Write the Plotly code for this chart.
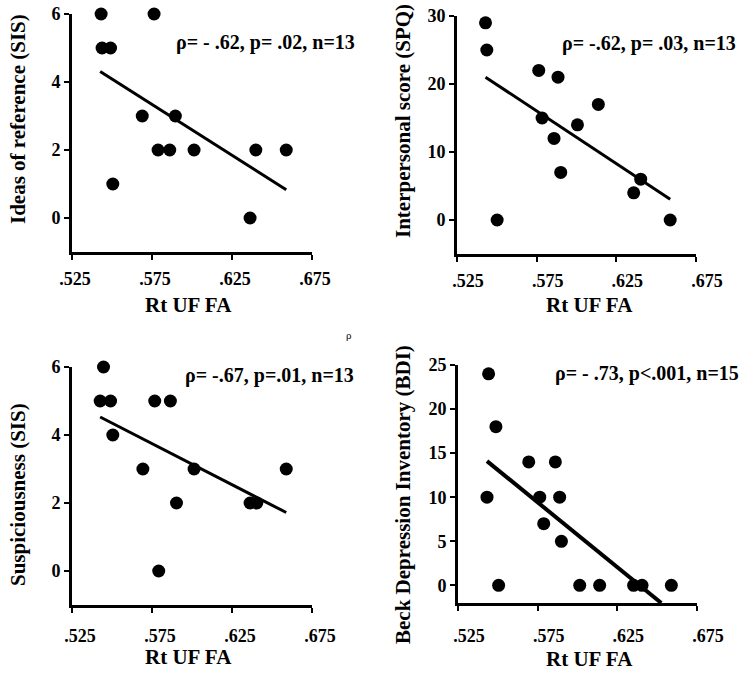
import plotly.graph_objects as go

W, H = 751, 677

# ---------------- data ----------------
x_ticks = [0.525, 0.575, 0.625, 0.675]
x_tick_labels = [".525", ".575", ".625", ".675"]

# Panel 1: Ideas of reference (SIS)
p1_x = [0.5432, 0.5763, 0.5438, 0.5491, 0.5505, 0.5689, 0.5788, 0.5861, 0.5896, 0.6013, 0.6363, 0.6399, 0.6589]
p1_y = [6, 6, 5, 5, 1, 3, 2, 2, 3, 2, 0, 2, 2]
p1_fit_x = [0.5426, 0.6589]
p1_fit_y = [4.31, 0.83]
p1_yticks = [0, 2, 4, 6]

# Panel 2: Interpersonal score (SPQ)
p2_x = [0.5429, 0.5437, 0.5502, 0.5763, 0.5784, 0.5884, 0.5859, 0.5901, 0.6006, 0.6137, 0.6359, 0.6403, 0.6588]
p2_y = [29, 25, 0, 22, 15, 21, 12, 7, 14, 17, 4, 6, 0]
p2_fit_x = [0.5429, 0.6588]
p2_fit_y = [21.0, 3.05]
p2_yticks = [0, 10, 20, 30]

# Panel 3: Suspiciousness (SIS)
p3_x = [0.5447, 0.5426, 0.5491, 0.5505, 0.5693, 0.5767, 0.5865, 0.5792, 0.5903, 0.6013, 0.6363, 0.6405, 0.6589]
p3_y = [6, 5, 5, 4, 3, 5, 5, 0, 2, 3, 2, 2, 3]
p3_fit_x = [0.5426, 0.6589]
p3_fit_y = [4.53, 1.72]
p3_yticks = [0, 2, 4, 6]

# Panel 4: Beck Depression Inventory (BDI)
p4_x = [0.5442, 0.5432, 0.5488, 0.5505, 0.5694, 0.5763, 0.5788, 0.5861, 0.5888, 0.5899, 0.6014, 0.6139, 0.6352, 0.6405, 0.6589]
p4_y = [24, 10, 18, 0, 14, 10, 7, 14, 10, 5, 0, 0, 0, 0, 0]
p4_fit_x = [0.5432, 0.6526]
p4_fit_y = [14.1, -2.0]
p4_yticks = [0, 5, 10, 15, 20, 25]

y_titles = ["Ideas of reference (SIS)", "Interpersonal score (SPQ)",
            "Suspiciousness (SIS)", "Beck Depression Inventory (BDI)"]
x_title = "Rt UF FA"
stats = ["ρ= - .62, p= .02, n=13", "ρ= -.62, p= .03, n=13",
         "ρ= -.67, p=.01, n=13", "ρ= - .73, p<.001, n=15"]

# ---------------- layout helpers ----------------
FONT = "Liberation Serif, Times New Roman, serif"

def px_x(px):
    return px / W

def px_y(py):
    return 1 - py / H

# plot-area boxes in pixels: (left, right, top, bottom)
boxes = [(72, 312, 14, 252), (457, 696, 16, 254), (72, 312, 367, 605), (458, 697, 365, 603)]
yranges = [[-1, 6], [-5, 30], [-1, 6], [-2, 25]]
panels = [(p1_x, p1_y, p1_fit_x, p1_fit_y, p1_yticks),
          (p2_x, p2_y, p2_fit_x, p2_fit_y, p2_yticks),
          (p3_x, p3_y, p3_fit_x, p3_fit_y, p3_yticks),
          (p4_x, p4_y, p4_fit_x, p4_fit_y, p4_yticks)]
line_widths = [3, 3, 3, 4]
xlabel_standoff = [3, 3, 7, 9]
xlabel_shift = [3, 11, 8, 11]
ylabel_suffix = ["\u00a0\u00a0", "", "\u00a0\u00a0", ""]

fig = go.Figure()
layout = dict(width=W, height=H, margin=dict(l=0, r=0, t=0, b=0, pad=0, autoexpand=False),
              paper_bgcolor="white", plot_bgcolor="white", showlegend=False,
              font=dict(family=FONT, color="black"))

for i, (px_, py_, fx, fy, yt) in enumerate(panels):
    n = "" if i == 0 else str(i + 1)
    xa, ya = "x" + n, "y" + n
    fig.add_trace(go.Scatter(x=fx, y=fy, mode="lines", xaxis=xa, yaxis=ya,
                             line=dict(color="black", width=line_widths[i]), cliponaxis=False))
    fig.add_trace(go.Scatter(x=px_, y=py_, mode="markers", xaxis=xa, yaxis=ya,
                             marker=dict(color="black", size=13), cliponaxis=False))
    l, r, t, b = boxes[i]
    layout["xaxis" + n] = dict(domain=[px_x(l), px_x(r)], anchor=ya, range=[0.525, 0.675],
                               tickvals=x_ticks, ticktext=x_tick_labels, automargin=False,
                               showline=True, linecolor="black", linewidth=3,
                               ticks="outside", ticklen=5, tickwidth=2, tickcolor="black",
                               showgrid=False, zeroline=False,
                               ticklabelshift=xlabel_shift[i],
                               ticklabelstandoff=xlabel_standoff[i],
                               tickfont=dict(family=FONT, size=18, weight="bold", color="black"))
    layout["yaxis" + n] = dict(domain=[px_y(b), px_y(t)], anchor=xa, range=yranges[i],
                               tickvals=yt, showline=True, linecolor="black", linewidth=3,
                               automargin=False, ticksuffix=ylabel_suffix[i],
                               ticks="outside", ticklen=5, tickwidth=2, tickcolor="black",
                               showgrid=False, zeroline=False,
                               tickfont=dict(family=FONT, size=18, weight="bold", color="black"))

annotations = []
# y-axis titles (pixel centres)
ytitle_pos = [(18, 119), (403, 121), (18, 495), (403, 495)]
for txt, (cx, cy) in zip(y_titles, ytitle_pos):
    annotations.append(dict(text=txt, x=px_x(cx), y=px_y(cy), xref="paper", yref="paper",
                            showarrow=False, textangle=-90, xanchor="center", yanchor="middle",
                            font=dict(family=FONT, size=21, weight="bold", color="black")))
# x-axis titles
xtitle_pos = [(188, 305), (589, 305), (188, 657), (589, 659)]
for (cx, cy) in xtitle_pos:
    annotations.append(dict(text=x_title, x=px_x(cx), y=px_y(cy), xref="paper", yref="paper",
                            showarrow=False, xanchor="center", yanchor="middle",
                            font=dict(family=FONT, size=21, weight="bold", color="black")))
# statistics text
stat_pos = [(265, 42), (649, 43), (269, 375), (647, 373)]
for txt, (cx, cy) in zip(stats, stat_pos):
    annotations.append(dict(text=txt, x=px_x(cx), y=px_y(cy), xref="paper", yref="paper",
                            showarrow=False, xanchor="center", yanchor="middle",
                            font=dict(family=FONT, size=20, weight="bold", color="black")))
# stray rho mark
annotations.append(dict(text="ρ", x=px_x(349), y=px_y(335), xref="paper", yref="paper",
                        showarrow=False, xanchor="center", yanchor="middle",
                        font=dict(family=FONT, size=11, color="black")))

layout["annotations"] = annotations
fig.update_layout(**layout)
fig.write_html("out.html", config={"displayModeBar": False},
               post_script="document.body.style.margin='0px';document.body.style.overflow='hidden';")
